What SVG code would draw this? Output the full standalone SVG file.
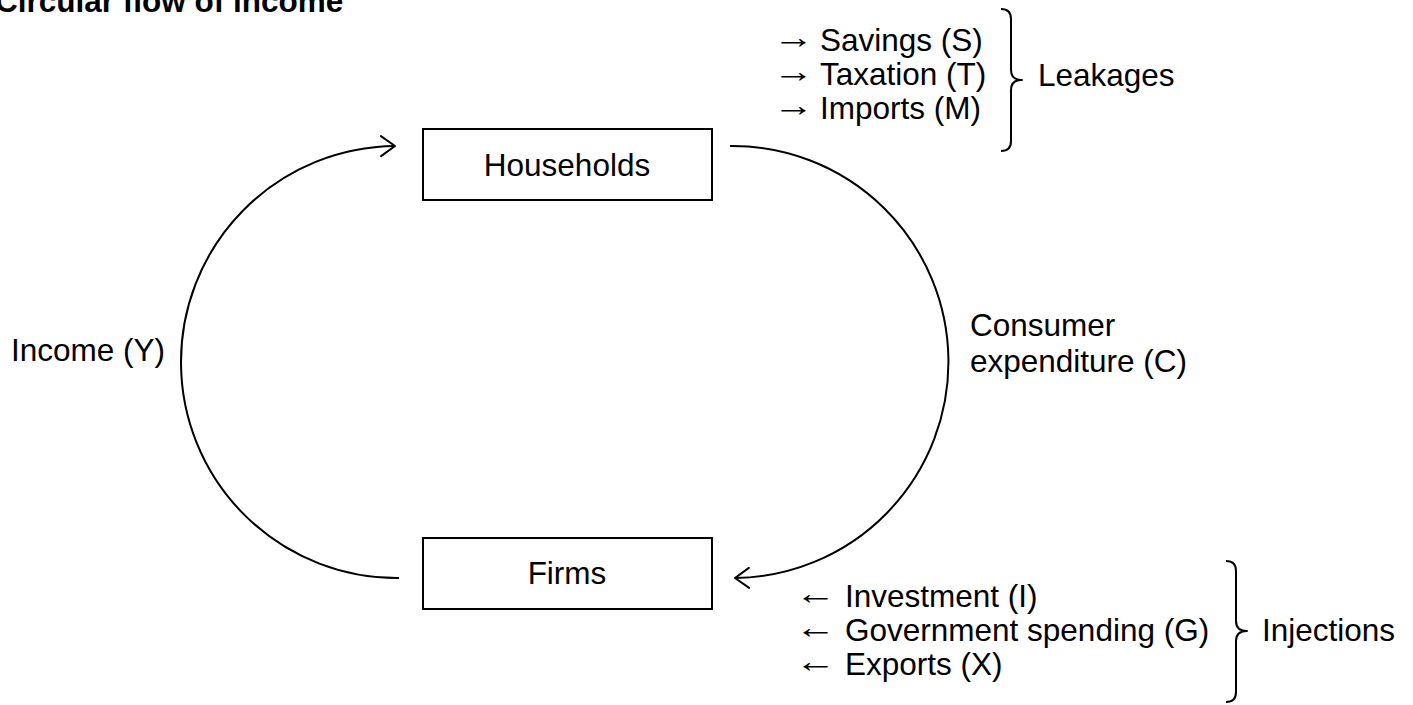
<svg xmlns="http://www.w3.org/2000/svg" width="1413" height="705" viewBox="0 0 1413 705">
  <style>
    text { font-family: "Liberation Sans", Arial, Helvetica, sans-serif; font-size: 31.5px; fill: #000; }
    .title { font-weight: bold; }
    .box { fill: #fff; stroke: #000; stroke-width: 2; }
    .flow { fill: none; stroke: #000; stroke-width: 2; }
    .brace { fill: none; stroke: #000; stroke-width: 2; stroke-linejoin: round; }
  </style>
  <defs>
    <marker id="open-arrow" markerUnits="userSpaceOnUse" markerWidth="30" markerHeight="30" refX="0" refY="0" viewBox="-20 -15 30 30" orient="auto" overflow="visible">
      <path d="M -14 -10 L 0 0 L -14 10" fill="none" stroke="#000" stroke-width="2" stroke-linecap="round" stroke-linejoin="round"/>
    </marker>
  </defs>

  <rect width="1413" height="705" fill="#fff"/>

  <text class="title" x="-5" y="12">Circular flow of income</text>

  <!-- circular flow arcs -->
  <g id="connectors">
    <path id="income-flow" class="flow" d="M 399 578 A 216 216 0 0 1 395 146" marker-end="url(#open-arrow)"/>
    <path id="consumption-flow" class="flow" d="M 730 146 A 216 216 0 0 1 735 578" marker-end="url(#open-arrow)"/>
  </g>

  <g id="households">
    <rect class="box" x="423" y="129" width="289" height="71"/>
    <text x="567" y="176" text-anchor="middle">Households</text>
  </g>

  <g id="firms">
    <rect class="box" x="423" y="538" width="289" height="71"/>
    <text x="567" y="584" text-anchor="middle">Firms</text>
  </g>

  <g id="income-label">
    <text x="11" y="361">Income (Y)</text>
  </g>

  <g id="consumer-label">
    <text x="970" y="336">Consumer</text>
    <text x="970" y="372">expenditure (C)</text>
  </g>

  <!-- leakages: arrow glyphs are stretched horizontally -->
  <g id="leakages">
    <text transform="translate(773 48) scale(1.3 1)">→</text>
    <text x="820" y="51">Savings (S)</text>
    <text transform="translate(773 82) scale(1.3 1)">→</text>
    <text x="820" y="85">Taxation (T)</text>
    <text transform="translate(773 116) scale(1.3 1)">→</text>
    <text x="820" y="119">Imports (M)</text>
    <path class="brace" d="M 1001 9 Q 1011 9 1011 19 L 1011 70 Q 1011 80 1022 80 Q 1011 80 1011 90 L 1011 141 Q 1011 151 1001 151"/>
    <text x="1038" y="86">Leakages</text>
  </g>

  <g id="injections">
    <text transform="translate(795 604) scale(1.3 1)">←</text>
    <text x="845" y="607">Investment (I)</text>
    <text transform="translate(795 638) scale(1.3 1)">←</text>
    <text x="845" y="641">Government spending (G)</text>
    <text transform="translate(795 672) scale(1.3 1)">←</text>
    <text x="845" y="675">Exports (X)</text>
    <path class="brace" d="M 1226 561 Q 1236 561 1236 571 L 1236 621 Q 1236 631 1247 631 Q 1236 631 1236 641 L 1236 692 Q 1236 702 1226 702"/>
    <text x="1262" y="641">Injections</text>
  </g>
</svg>
